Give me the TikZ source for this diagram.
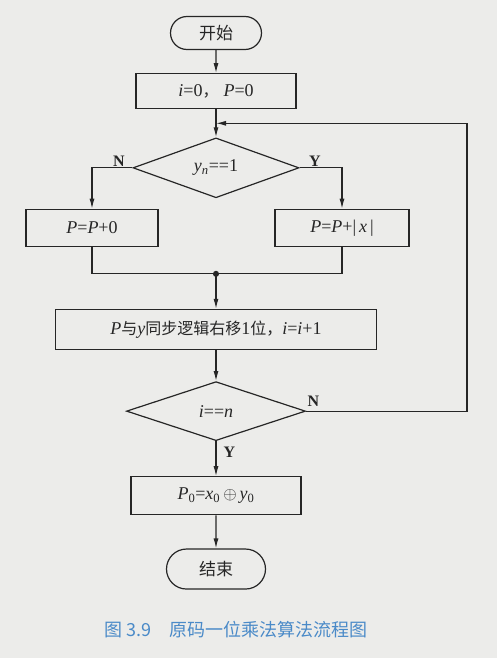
\documentclass[tikz,border=0pt]{standalone}
\usepackage{fontspec}
\usepackage{xcolor}
\usepackage{tikz}
\usetikzlibrary{arrows.meta, positioning, shapes.geometric, shapes.misc, calc}
\setmainfont{Liberation Serif}
\newfontfamily\cjk{Noto Sans CJK SC}
\definecolor{paper}{HTML}{ECECEA}
\definecolor{ink}{HTML}{262626}
\definecolor{capblue}{HTML}{4A8AC8}
\newcommand{\vi}[1]{\textit{#1}}
\newcommand{\hz}[1]{{\cjk\fontsize{16}{19}\selectfont #1}}

\begin{document}
\begin{tikzpicture}[
  x=1pt, y=1pt,
  node distance=26pt,
  every path/.style={draw=ink, line width=1.2pt},
  box/.style={rectangle, draw=ink, line width=1.2pt, minimum height=37pt, inner sep=2pt, text=ink, font=\fontsize{18}{21}\selectfont},
  term/.style={rounded rectangle, draw=ink, line width=1.2pt, minimum width=95pt, minimum height=33pt, inner sep=2pt, text=ink, font=\cjk\fontsize{17}{20}\selectfont},
  cond/.style={diamond, draw=ink, line width=1.2pt, inner sep=0pt, text=ink, font=\fontsize{18}{21}\selectfont},
  lbl/.style={font=\bfseries\fontsize{16}{18}\selectfont, text=ink, inner sep=1pt},
  arrow/.style={-{Latex[length=10pt, width=5pt]}, draw=ink, line width=1.2pt},
]
  \useasboundingbox[fill=paper, draw=none] (0,0) rectangle (497,-658);

  \node[term] (start) at (216,-33) {开始};
  \node[box, minimum width=160pt, minimum height=35pt, below=23pt of start] (init) {\vi{i}=0\hz{，}\hspace{5pt}\vi{P}=0};
  \node[cond, minimum width=166pt, minimum height=56pt, below=28pt of init] (yn) {\vi{y}\textsubscript{\vi{n}}==1};
  \node[box, minimum width=132pt] (add0) at ($(yn)+(-124,-60)$) {\vi{P}=\vi{P}+0};
  \node[box, minimum width=134pt] (addx) at ($(yn)+(126,-60)$) {\vi{P}=\vi{P}+|\,\vi{x}\,|};
  \coordinate (merge) at ($(yn)+(0,-106)$);
  \node[box, minimum width=321pt, minimum height=40pt, below=35pt of merge] (shift)
    {\vi{P}\hz{与}\vi{y}\hz{同步逻辑右移}1\hz{位，}\vi{i}=\vi{i}+1};
  \node[cond, minimum width=179pt, minimum height=59pt, below=31pt of shift] (ieqn) {\vi{i}==\vi{n}};
  \node[box, minimum width=170pt, minimum height=38pt, below=35pt of ieqn] (final) {\vi{P}\textsubscript{0}=\vi{x}\textsubscript{0}\,$\oplus$\,\vi{y}\textsubscript{0}};
  \node[term, minimum width=103pt, minimum height=40pt, below=33pt of final] (stop) {结束};
  \node[font=\cjk\fontsize{18}{21}\selectfont, text=capblue] (cap) at (236,-630) {图 3.9\quad 原码一位乘法算法流程图};

  \coordinate (back) at ($(init.south)!0.5!(yn.north)$);
  \coordinate (loopx) at (467,0);

  \draw[arrow] (start) -- (init);
  \draw[arrow] (init) -- (yn);
  \draw[arrow] (yn.west) -| (add0);
  \draw[arrow] (yn.east) -| (addx);
  \draw (add0.south) |- (merge);
  \draw (addx.south) |- (merge);
  \fill[ink] (merge) circle (2.4pt);
  \draw[arrow] (merge) -- (shift);
  \draw[arrow] (shift) -- (ieqn);
  \draw[arrow] (ieqn) -- (final);
  \draw[arrow] (final) -- (stop);
  \draw[arrow] (ieqn.east) -| (back -| loopx) -- (back);

  \node[lbl, above left=0pt and 6pt of yn.west] {N};
  \node[lbl, above right=0pt and 8pt of yn.east] {Y};
  \node[lbl, above right=3pt and 0pt of ieqn.east] {N};
  \node[lbl, below right=4pt and 6pt of ieqn.south] {Y};
\end{tikzpicture}
\end{document}
